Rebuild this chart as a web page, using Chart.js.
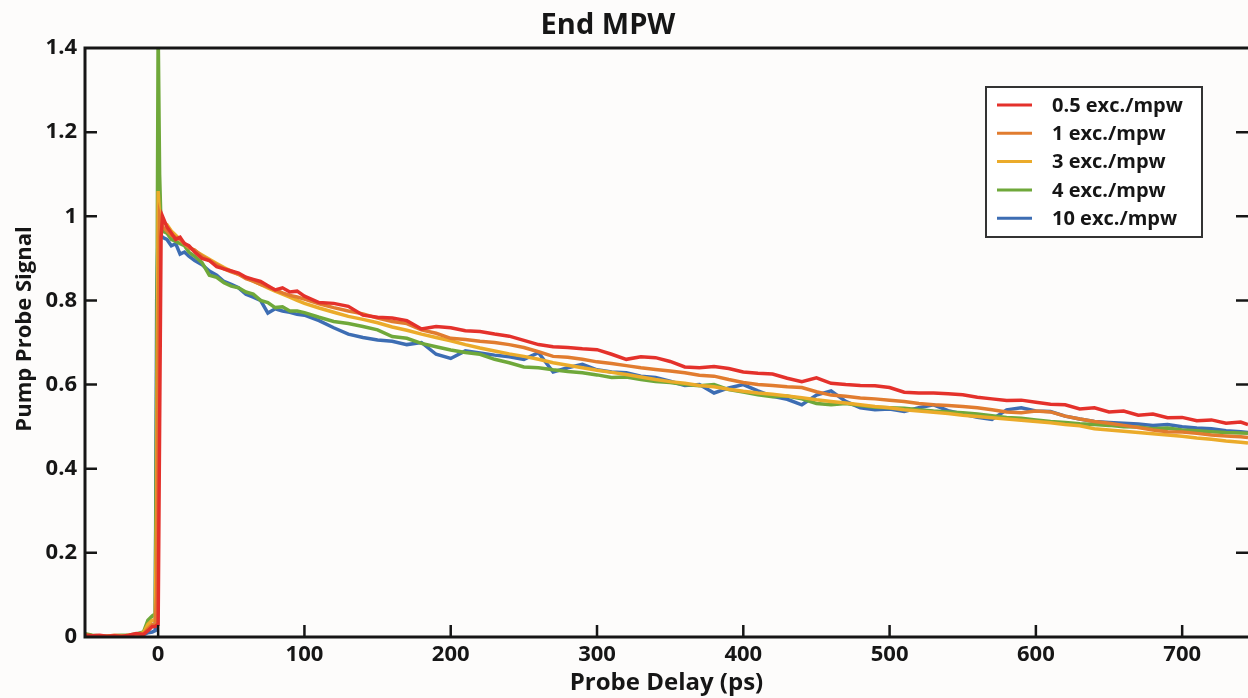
<!DOCTYPE html>
<html>
<head>
<meta charset="utf-8">
<title>End MPW</title>
<script src="https://cdn.jsdelivr.net/npm/chart.js@4.4.0/dist/chart.umd.min.js"></script>
<style>
  body { margin: 0; background: #fdfcfb; }
  #wrap { width: 1248px; height: 698px; }
</style>
</head>
<body>
<div id="wrap"><canvas id="pumpProbe" width="1248" height="698"></canvas></div>
<script>
// Probe delay grid (ps), shared by all traces
const delayPs = [
  -50, -45, -40, -35, -30, -25, -20, -15, -10, -7, -4, -2, -1, 0, 1, 2, 3,
  6, 9, 12, 15, 18, 21, 25, 30, 35, 40, 45, 50, 55, 60, 65, 70, 75, 80, 85, 90, 95, 100,
  110, 120, 130, 140, 150, 160, 170, 180, 190, 200,
  210, 220, 230, 240, 250, 260, 270, 280, 290, 300,
  310, 320, 330, 340, 350, 360, 370, 380, 390, 400,
  410, 420, 430, 440, 450, 460, 470, 480, 490, 500,
  510, 520, 530, 540, 550, 560, 570, 580, 590, 600,
  610, 620, 630, 640, 650, 660, 670, 680, 690, 700,
  710, 720, 730, 740, 745
];

const seriesLabels = ['0.5 exc./mpw', '1 exc./mpw', '3 exc./mpw', '4 exc./mpw', '10 exc./mpw'];
const seriesColors = ['#e4312b', '#e17c2f', '#ebab2a', '#6fa83a', '#3d6db3'];

const signal05 = [
  0.005, 0.003, 0.004, 0.002, 0.003, 0.001, 0.004, 0.008, 0.006, 0.015, 0.025, 0.025, 0.028, 0.03, 0.5, 0.95, 1.0,
  0.975, 0.96, 0.945, 0.95, 0.935, 0.93, 0.915, 0.9, 0.895, 0.88, 0.875, 0.87, 0.865, 0.855, 0.85, 0.845, 0.835, 0.825, 0.83, 0.82, 0.822, 0.81,
  0.795, 0.793, 0.786, 0.765, 0.76, 0.758, 0.752, 0.732, 0.738, 0.735,
  0.728, 0.726, 0.72, 0.715, 0.705, 0.695, 0.69, 0.688, 0.685, 0.683,
  0.672, 0.66, 0.666, 0.664, 0.655, 0.642, 0.64, 0.643, 0.638, 0.63,
  0.627, 0.625, 0.615, 0.607, 0.616, 0.603, 0.6, 0.598, 0.597, 0.593,
  0.582, 0.58, 0.58, 0.578, 0.576, 0.57, 0.566, 0.562, 0.563, 0.558,
  0.553, 0.552, 0.542, 0.545, 0.535, 0.537, 0.527, 0.53, 0.521, 0.522,
  0.514, 0.516, 0.508, 0.511, 0.505
];
const signal1 = [
  0.003, 0.002, 0.0, 0.002, 0.004, 0.003, 0.002, 0.006, 0.008, 0.02, 0.03, 0.03, 0.1, 0.7, 1.0, 0.985, 0.975,
  0.965, 0.955, 0.95, 0.945, 0.935, 0.925, 0.92, 0.905, 0.895, 0.885, 0.875, 0.868, 0.862, 0.852, 0.846, 0.838, 0.832, 0.825, 0.818, 0.812, 0.808, 0.803,
  0.792, 0.783, 0.775, 0.768, 0.758, 0.75, 0.745, 0.73, 0.722, 0.71,
  0.707, 0.703, 0.7, 0.695, 0.688, 0.678, 0.667, 0.665, 0.66, 0.654,
  0.65, 0.645, 0.64, 0.636, 0.632, 0.628, 0.622, 0.62, 0.612, 0.605,
  0.6, 0.598, 0.595, 0.593, 0.583, 0.575, 0.572, 0.568, 0.566, 0.563,
  0.56, 0.555, 0.552, 0.55, 0.548, 0.545, 0.54, 0.535, 0.533, 0.537,
  0.535, 0.525, 0.518, 0.512, 0.508, 0.503, 0.498, 0.492, 0.488, 0.487,
  0.484, 0.48, 0.478, 0.476, 0.474
];
const signal3 = [
  0.004, 0.003, 0.002, 0.001, 0.003, 0.002, 0.004, 0.005, 0.01, 0.03, 0.04, 0.04, 0.3, 1.06, 1.0, 0.99, 0.985,
  0.98, 0.965, 0.955, 0.945, 0.935, 0.927, 0.918, 0.908, 0.898, 0.888, 0.878, 0.87, 0.862, 0.854, 0.846, 0.838, 0.83, 0.822, 0.815, 0.808, 0.8, 0.793,
  0.782, 0.772, 0.762, 0.755, 0.747, 0.737, 0.729, 0.72, 0.712, 0.704,
  0.695, 0.687, 0.68, 0.673, 0.667, 0.66, 0.652, 0.646, 0.64, 0.634,
  0.629, 0.624, 0.618, 0.612, 0.607, 0.603, 0.598, 0.595, 0.589, 0.584,
  0.58, 0.577, 0.573, 0.569, 0.564, 0.56, 0.556, 0.552, 0.548, 0.545,
  0.54, 0.537, 0.534, 0.531, 0.527, 0.524, 0.521, 0.518, 0.515, 0.512,
  0.509, 0.505, 0.502, 0.495, 0.492, 0.489, 0.486, 0.483, 0.48, 0.477,
  0.473, 0.47, 0.466, 0.463, 0.461
];
const signal4 = [
  0.008, 0.004, 0.003, 0.002, 0.003, 0.004, 0.005, 0.007, 0.012, 0.04, 0.05, 0.055, 0.6, 1.45, 1.1, 0.975, 0.965,
  0.96, 0.945, 0.94, 0.935, 0.93, 0.915, 0.905, 0.89, 0.86, 0.855, 0.842, 0.834, 0.83, 0.82, 0.815, 0.8, 0.795, 0.783, 0.785, 0.775, 0.775, 0.771,
  0.76, 0.75, 0.745, 0.738, 0.73, 0.714, 0.71, 0.698, 0.69, 0.682,
  0.676, 0.672, 0.66, 0.652, 0.642, 0.64, 0.635, 0.631, 0.628, 0.623,
  0.617, 0.618, 0.612, 0.607, 0.605, 0.6, 0.597, 0.6, 0.588, 0.582,
  0.576, 0.571, 0.573, 0.566, 0.555, 0.552, 0.555, 0.55, 0.546, 0.545,
  0.544, 0.54, 0.537, 0.535, 0.533, 0.53, 0.526, 0.522, 0.52, 0.516,
  0.512, 0.51, 0.507, 0.505, 0.503, 0.5, 0.499, 0.495, 0.497, 0.492,
  0.49, 0.488, 0.486, 0.485, 0.484
];
const signal10 = [
  0.002, 0.001, 0.0, 0.002, 0.001, 0.002, 0.003, 0.004, 0.005, 0.01, 0.012, 0.015, 0.8, 0.97, 0.96, 0.955, 0.95,
  0.945, 0.93, 0.935, 0.91, 0.915, 0.905, 0.895, 0.885, 0.87, 0.86, 0.845, 0.838, 0.83, 0.815, 0.808, 0.8, 0.77, 0.78, 0.775, 0.772, 0.767, 0.765,
  0.752, 0.735, 0.72, 0.712, 0.706, 0.703, 0.695, 0.7, 0.672, 0.662,
  0.68, 0.675, 0.67, 0.666, 0.66, 0.676, 0.63, 0.64, 0.648, 0.635,
  0.63, 0.628, 0.62, 0.617, 0.608, 0.598, 0.6, 0.58, 0.592, 0.6,
  0.585, 0.572, 0.565, 0.552, 0.575, 0.585, 0.56, 0.545, 0.54, 0.542,
  0.536, 0.545, 0.552, 0.538, 0.53, 0.522, 0.517, 0.54, 0.545, 0.537,
  0.536, 0.525, 0.518, 0.512, 0.51, 0.508, 0.506, 0.503, 0.505, 0.5,
  0.497, 0.495, 0.49, 0.488, 0.486
];
const seriesValues = [signal05, signal1, signal3, signal4, signal10];

// Tick labels
const xTicks = [0, 100, 200, 300, 400, 500, 600, 700];
const yTicks = [0, 0.2, 0.4, 0.6, 0.8, 1, 1.2, 1.4];

const FONT = "'Open Sans', 'Noto Sans', sans-serif";
const INK = '#161616';

// Axis frame with inward ticks (MATLAB style), title, legend box
const framePlugin = {
  id: 'frame',
  beforeDraw(chart) {
    const ctx = chart.ctx;
    ctx.save();
    ctx.fillStyle = '#fdfcfb';
    ctx.fillRect(0, 0, chart.width, chart.height);
    ctx.restore();
  },
  afterDatasetsDraw(chart) {
    const { ctx, chartArea: a, scales } = chart;
    ctx.save();
    ctx.strokeStyle = INK;
    ctx.lineWidth = 3;
    ctx.beginPath();
    ctx.moveTo(a.left, a.top);
    ctx.lineTo(a.right, a.top);
    ctx.moveTo(a.left, a.top - 1.5);
    ctx.lineTo(a.left, a.bottom);
    ctx.lineTo(a.right, a.bottom);
    ctx.stroke();

    ctx.lineWidth = 2.5;
    ctx.beginPath();
    xTicks.forEach(v => {
      const px = scales.x.getPixelForValue(v);
      ctx.moveTo(px, a.bottom);
      ctx.lineTo(px, a.bottom - 12);
    });
    yTicks.forEach(v => {
      if (v === 0 || v === 1.4) return;
      const py = scales.y.getPixelForValue(v);
      ctx.moveTo(a.left, py);
      ctx.lineTo(a.left + 12, py);
      ctx.moveTo(a.right, py);
      ctx.lineTo(a.right - 12, py);
    });
    ctx.stroke();
    ctx.restore();
  },
  afterDraw(chart) {
    const ctx = chart.ctx;
    ctx.save();
    ctx.fillStyle = INK;
    ctx.font = `bold 29px ${FONT}`;
    ctx.textAlign = 'center';
    ctx.textBaseline = 'middle';
    ctx.fillText('End MPW', 608, 26);

    // y axis title, placed as in the original figure
    ctx.save();
    ctx.translate(25, 329);
    ctx.rotate(-Math.PI / 2);
    ctx.font = `bold 22px ${FONT}`;
    ctx.fillText('Pump Probe Signal', 0, 0);
    ctx.restore();

    const bx = 986, by = 87, bw = 216, bh = 150;
    ctx.fillStyle = '#ffffff';
    ctx.fillRect(bx, by, bw, bh);
    ctx.strokeStyle = '#333333';
    ctx.lineWidth = 2;
    ctx.strokeRect(bx, by, bw, bh);
    ctx.font = `bold 20px ${FONT}`;
    ctx.textAlign = 'left';
    chart.data.datasets.forEach((ds, i) => {
      const cy = 105 + i * 28.3;
      ctx.strokeStyle = ds.borderColor;
      ctx.lineWidth = 3;
      ctx.beginPath();
      ctx.moveTo(997, cy);
      ctx.lineTo(1032, cy);
      ctx.stroke();
      ctx.fillStyle = INK;
      ctx.fillText(ds.label, 1052, cy + 1);
    });
    ctx.restore();
  }
};

const datasets = seriesLabels.map((label, i) => ({
  label: label,
  data: delayPs.map((x, j) => ({ x: x, y: seriesValues[i][j] })),
  borderColor: seriesColors[i],
  borderWidth: 3.5,
  pointRadius: 0,
  tension: 0,
  fill: false
}));

new Chart(document.getElementById('pumpProbe'), {
  type: 'line',
  data: { datasets: datasets },
  options: {
    responsive: false,
    animation: false,
    layout: { padding: { top: 48, right: 0, left: 0, bottom: 0 } },
    plugins: {
      legend: { display: false },
      title: { display: false },
      tooltip: { enabled: false }
    },
    scales: {
      x: {
        type: 'linear',
        min: -50,
        max: 745,
        afterBuildTicks: axis => { axis.ticks = xTicks.map(v => ({ value: v })); },
        afterFit: scale => { scale.height = 61; },
        grid: { display: false, drawTicks: false },
        border: { display: false },
        ticks: {
          color: INK,
          font: { family: FONT, size: 22, weight: 'bold' },
          padding: 5,
          maxRotation: 0,
          autoSkip: false
        },
        title: {
          display: true,
          text: 'Probe Delay (ps)',
          color: INK,
          font: { family: FONT, size: 24, weight: 'bold' },
          padding: { top: 0, bottom: 0 }
        }
      },
      y: {
        type: 'linear',
        min: 0,
        max: 1.4,
        afterBuildTicks: axis => { axis.ticks = yTicks.map(v => ({ value: v })); },
        afterFit: scale => { scale.width = 85; },
        grid: { display: false, drawTicks: false },
        border: { display: false },
        ticks: {
          color: INK,
          font: { family: FONT, size: 22, weight: 'bold' },
          padding: 8,
          callback: v => String(v)
        },
        title: { display: false }
      }
    }
  },
  plugins: [framePlugin]
});
</script>
</body>
</html>
